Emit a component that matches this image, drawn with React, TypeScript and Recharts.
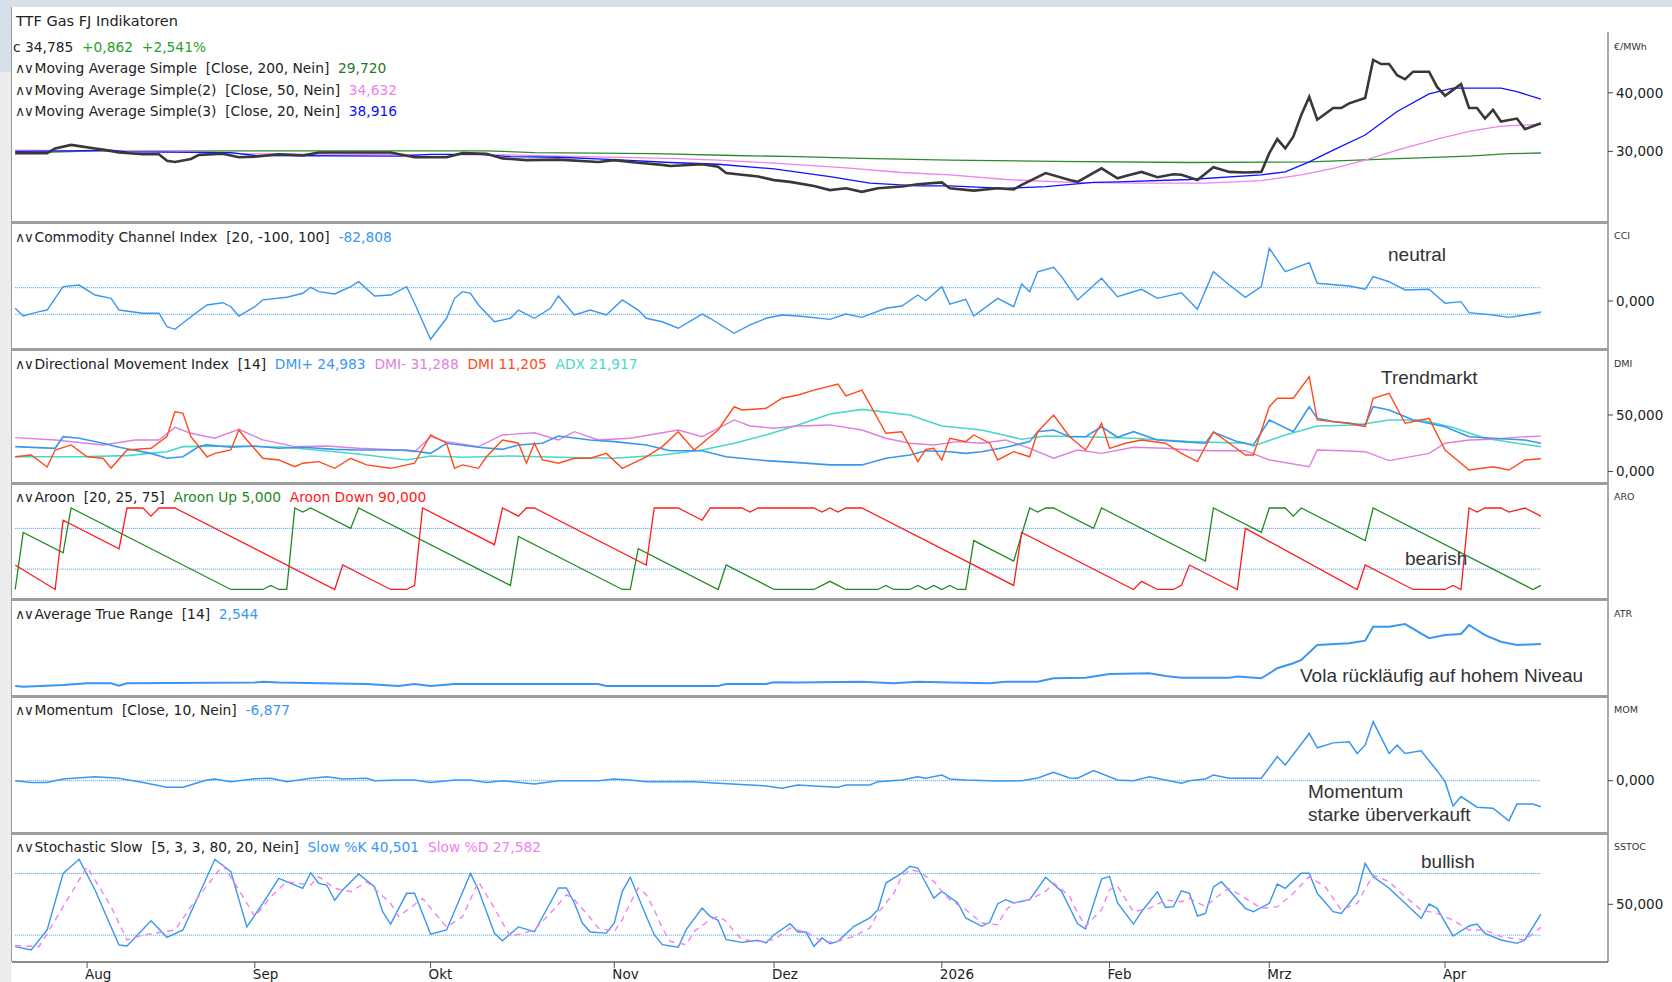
import React from 'react'
import { LineChart, Line, XAxis, YAxis, ReferenceLine } from 'recharts'

// TTF Gas FJ – Kurs + Indikatoren, Tageswerte
// x = Handelstag (0 = 21.07.2025), y = Wert
type Pt = [number, number]

const closePrice: Pt[] = [
  [0, 29.7], [4, 29.7], [5, 30.5], [7, 31.1], [8, 30.9], [10, 30.5], [11, 30.3], [13, 29.8], [16, 29.5], [18, 29.5],
  [19, 28.4], [20, 28.2], [22, 28.7], [23, 29.4], [26, 29.6], [28, 29.0], [30, 29.1], [33, 29.5], [36, 29.3], [38, 29.8],
  [43, 29.8], [47, 29.8], [50, 29.0], [54, 29.0], [56, 29.7], [59, 29.6], [61, 28.8], [64, 28.5], [68, 28.6], [73, 28.2],
  [75, 28.5], [77, 28.2], [81, 27.7], [82, 27.5], [86, 27.8], [88, 27.4], [89, 26.3], [93, 25.7], [95, 25.1], [97, 24.8],
  [100, 24.1], [102, 23.4], [104, 23.7], [106, 23.1], [108, 23.7], [111, 24.0], [113, 24.4], [116, 24.7], [117, 23.7],
  [120, 23.3], [123, 23.7], [125, 23.5], [126, 24.3], [129, 26.3], [132, 25.1], [133, 24.8], [136, 27.1], [138, 25.4],
  [139, 25.8], [141, 26.5], [143, 25.6], [145, 26.1], [146, 26.0], [148, 25.1], [150, 27.3], [152, 26.5], [154, 26.4],
  [156, 26.5], [157, 29.7], [158, 32.1], [159, 30.5], [160, 32.5], [161, 36.2], [162, 39.3], [163, 35.4], [165, 37.4],
  [166, 37.4], [167, 38.2], [169, 39.1], [170, 45.6], [171, 44.9], [172, 44.9], [173, 43.0], [174, 42.3], [175, 43.6],
  [177, 43.6], [178, 41.0], [179, 39.5], [180, 40.5], [181, 41.5], [182, 37.4], [183, 37.4], [184, 35.6], [185, 37.1],
  [186, 35.1], [188, 35.6], [189, 33.8], [191, 34.785],
]

const ma200: Pt[] = [
  [0, 29.7], [8, 30.0], [28, 30.1], [59, 30.1], [65, 29.8], [80, 29.6], [90, 29.3], [98, 29.1], [106, 28.8], [117, 28.5],
  [130, 28.3], [147, 28.1], [162, 28.2], [174, 28.8], [182, 29.2], [187, 29.6], [191, 29.72],
]

const ma50: Pt[] = [
  [0, 30.2], [10, 30.1], [21, 30.0], [28, 29.6], [45, 29.5], [62, 29.4], [68, 29.2], [82, 28.8], [88, 28.5], [95, 28.0],
  [104, 27.2], [111, 26.4], [117, 26.0], [124, 25.2], [132, 24.7], [140, 24.6], [149, 24.6], [156, 25.0], [161, 26.0],
  [165, 27.1], [169, 28.5], [173, 30.2], [178, 32.1], [182, 33.4], [186, 34.3], [191, 34.632],
]

const ma20: Pt[] = [
  [0, 30.0], [7, 30.1], [12, 30.2], [14, 29.9], [27, 29.8], [30, 29.3], [48, 29.2], [52, 29.5], [58, 29.5], [62, 29.1],
  [68, 29.0], [75, 28.6], [82, 28.1], [88, 27.8], [95, 27.0], [102, 25.7], [107, 24.6], [113, 24.1], [117, 24.1],
  [124, 23.7], [129, 24.0], [135, 24.7], [138, 24.8], [147, 25.2], [156, 26.0], [159, 26.5], [162, 28.2], [165, 30.2],
  [169, 32.8], [173, 36.8], [177, 39.8], [180, 40.8], [186, 40.8], [188, 40.2], [191, 38.916],
]

const cci: Pt[] = [
  [0, -55], [1, -113], [3, -80], [4, -68], [6, 108], [8, 120], [10, 45], [12, 20], [13, -68], [16, -92], [18, -92],
  [19, -193], [20, -213], [22, -118], [24, -30], [26, -13], [27, -43], [28, -113], [30, -43], [31, 8], [34, 28], [36, 58],
  [37, 103], [38, 70], [40, 53], [42, 108], [43, 145], [45, 38], [47, 45], [49, 108], [50, -17], [52, -288], [54, -130],
  [55, 20], [56, 70], [57, 58], [58, -30], [60, -156], [62, -130], [63, -68], [65, -130], [67, -55], [68, 38], [70, -105],
  [72, -68], [74, -105], [76, 8], [78, -68], [79, -130], [81, -156], [83, -205], [86, -98], [87, -130], [90, -243],
  [92, -180], [94, -130], [96, -105], [98, -113], [102, -138], [104, -98], [106, -123], [109, -55], [111, -38], [113, 45],
  [114, 2], [116, 108], [117, -23], [119, 13], [120, -113], [123, 20], [125, -43], [126, 128], [127, 70], [128, 220],
  [130, 253], [131, 183], [133, 8], [136, 171], [138, 32], [141, 88], [143, 20], [146, 62], [148, -62], [150, 220],
  [152, 120], [154, 28], [156, 108], [157, 396], [159, 220], [162, 288], [163, 133], [167, 113], [169, 88], [170, 183],
  [172, 145], [174, 83], [177, 88], [179, -17], [181, -5], [182, -88], [185, -105], [187, -123], [189, -105], [191, -82.808],
]

const dmiPlus: Pt[] = [
  [0, 22], [5, 20.5], [6, 30.8], [8, 29.4], [11, 25], [13, 21.4], [17, 16], [19, 11.7], [21, 13], [23, 22], [24, 23.5],
  [27, 21.4], [30, 22.6], [33, 20.5], [36, 21.4], [40, 19.6], [43, 19], [49, 19], [52, 16], [54, 25], [58, 21.4],
  [61, 19.6], [63, 23.5], [66, 25], [68, 31.4], [72, 27.9], [75, 26.4], [79, 23.5], [82, 18.4], [86, 18.4], [89, 13],
  [94, 9.6], [98, 7.8], [102, 5.8], [106, 5.8], [109, 11.7], [112, 14.6], [114, 18.4], [117, 17.5], [119, 16], [121, 17.5],
  [124, 21.4], [127, 26.4], [128, 35.2], [130, 36.7], [132, 30.8], [134, 30.8], [136, 39.6], [138, 30.3], [140, 35.2],
  [143, 27.9], [146, 26.4], [149, 25], [150, 34.7], [153, 26.4], [155, 23.5], [157, 45.6], [160, 35.2], [162, 57.3],
  [163, 47], [165, 44.1], [169, 41.2], [170, 57.3], [172, 54.4], [175, 45.6], [179, 39.6], [182, 30.8], [185, 29.4],
  [189, 27.9], [191, 24.983],
]

const dmiMinus: Pt[] = [
  [0, 30], [5, 27.9], [11, 23.5], [15, 27.9], [18, 27.9], [20, 39], [22, 33.8], [25, 29.4], [28, 37.3], [31, 27.9],
  [35, 22], [39, 22.6], [43, 20.5], [48, 19], [50, 17.5], [52, 30.8], [54, 26.4], [58, 22], [61, 32.3], [65, 34.3],
  [68, 27.9], [70, 35.2], [73, 27.9], [77, 29.4], [83, 36.7], [86, 30.8], [90, 45.6], [92, 40.3], [95, 38.2], [98, 40.3],
  [102, 41.2], [106, 36.7], [109, 29.4], [112, 25], [115, 23.5], [118, 26.4], [121, 25], [124, 27.9], [127, 20.5],
  [130, 11.7], [133, 19], [136, 16], [140, 21.4], [144, 20.5], [147, 19], [150, 18.4], [154, 18.4], [157, 10.2],
  [162, 4.2], [163, 19], [166, 18.4], [169, 17.5], [172, 9.6], [177, 16], [179, 25], [182, 27.9], [185, 28.5], [189, 30.8],
  [191, 31.288],
]

const dmi: Pt[] = [
  [0, 13], [2, 14.6], [4, 4], [5, 19], [7, 23.5], [9, 13], [11, 11.7], [12, 3], [14, 19], [17, 20.5], [19, 30.8], [20, 53],
  [21, 51.5], [22, 30.8], [24, 13], [25, 16], [27, 19], [28, 36.7], [29, 27.9], [31, 11.7], [33, 10.2], [35, 4.2],
  [36, 7.3], [38, 8.7], [40, 2.8], [42, 11.7], [44, 5.8], [47, 2.8], [50, 7.3], [52, 32.3], [54, 25], [55, 2.8], [56, 5.8],
  [58, 2.8], [59, 13], [61, 27.9], [63, 25], [64, 7.3], [65, 25], [66, 10.2], [68, 7.3], [70, 11.7], [72, 11.7], [74, 16],
  [76, 2.8], [79, 13], [81, 22], [83, 35.2], [85, 19], [88, 36.7], [90, 57.3], [91, 54.4], [94, 55.9], [96, 64.8],
  [98, 67.7], [100, 72], [103, 77.4], [104, 66.8], [106, 72], [109, 33.8], [111, 35.2], [113, 8.7], [114, 19.6],
  [115, 20.5], [116, 10.2], [117, 29.4], [119, 26.4], [120, 32.3], [122, 25], [123, 10.2], [125, 17.5], [127, 13],
  [128, 35.2], [130, 50], [132, 30.8], [134, 19], [136, 42.7], [137, 20.5], [139, 25], [141, 27.9], [144, 25], [146, 16],
  [148, 8.7], [150, 35.2], [152, 25], [154, 14.6], [155, 14.6], [157, 57.3], [158, 64.8], [160, 64.8], [162, 83.9],
  [163, 45.6], [165, 44.1], [167, 42.7], [169, 39.6], [170, 64.8], [172, 69.2], [174, 42.7], [177, 47], [179, 19],
  [182, 1.3], [185, 4.2], [187, 1.3], [189, 10.2], [191, 11.205],
]

const adx: Pt[] = [
  [0, 13], [8, 13], [14, 14], [19, 17.5], [21, 22], [27, 22.6], [34, 21.4], [40, 17.5], [44, 14.6], [49, 10.2], [52, 13.7],
  [56, 12.6], [62, 13.7], [68, 12.6], [75, 11.7], [81, 14.6], [86, 19], [90, 25], [94, 32.3], [98, 41.2], [102, 50.9],
  [106, 55], [112, 50], [116, 40.3], [121, 36.7], [126, 28.5], [129, 31.4], [134, 30.8], [140, 29.4], [147, 26.4],
  [154, 25], [155, 22.6], [159, 32.3], [163, 40.3], [168, 41.2], [172, 45.6], [176, 45.6], [180, 39], [184, 29.4],
  [188, 25], [191, 21.917],
]

const aroonUp: Pt[] = [
  [0, 0], [1, 70], [6, 45], [7, 100], [27, 0], [31, 0], [32, 5], [33, 0], [34, 0], [35, 100], [36, 95], [37, 100],
  [42, 75], [43, 100], [62, 5], [63, 65], [76, 0], [77, 0], [78, 50], [88, 0], [89, 30], [95, 0], [100, 0], [101, 5],
  [102, 10], [103, 5], [104, 0], [108, 0], [109, 5], [110, 0], [112, 0], [113, 5], [114, 0], [115, 5], [116, 0], [117, 5],
  [118, 0], [119, 0], [120, 60], [125, 35], [127, 100], [128, 95], [129, 100], [130, 100], [135, 75], [136, 100],
  [149, 35], [150, 100], [156, 70], [157, 100], [159, 100], [160, 90], [161, 100], [169, 60], [170, 100], [189, 5],
  [190, 0], [191, 5],
]

const aroonDown: Pt[] = [
  [0, 30], [5, 0], [6, 85], [13, 50], [14, 100], [16, 100], [17, 90], [18, 100], [20, 100], [40, 0], [41, 30], [47, 0],
  [49, 0], [50, 5], [51, 100], [60, 55], [61, 100], [63, 90], [64, 100], [65, 100], [79, 30], [80, 100], [83, 100],
  [86, 85], [87, 100], [91, 100], [92, 95], [93, 100], [100, 100], [101, 95], [102, 100], [103, 95], [104, 100],
  [106, 100], [125, 5], [126, 70], [140, 0], [141, 10], [143, 0], [145, 0], [146, 5], [147, 30], [153, 0], [154, 75],
  [168, 0], [169, 30], [175, 0], [179, 0], [180, 5], [181, 0], [182, 100], [183, 95], [184, 100], [186, 100], [187, 95],
  [189, 100], [191, 90],
]

const atr: Pt[] = [
  [0, 0.38], [1, 0.34], [6, 0.43], [9, 0.52], [12, 0.52], [13, 0.39], [14, 0.52], [30, 0.55], [31, 0.6], [33, 0.55],
  [44, 0.48], [48, 0.38], [50, 0.48], [52, 0.38], [55, 0.48], [73, 0.48], [74, 0.38], [88, 0.38], [89, 0.48], [94, 0.48],
  [95, 0.57], [98, 0.55], [106, 0.6], [110, 0.52], [113, 0.6], [117, 0.55], [122, 0.52], [124, 0.6], [128, 0.6],
  [130, 0.77], [134, 0.8], [137, 0.99], [142, 1.03], [144, 0.89], [146, 0.8], [152, 0.8], [153, 0.86], [156, 0.77],
  [158, 1.29], [160, 1.55], [161, 1.72], [163, 2.49], [167, 2.58], [169, 2.71], [170, 3.43], [172, 3.43], [174, 3.57],
  [177, 2.84], [179, 3.0], [181, 3.06], [182, 3.52], [184, 3.0], [186, 2.66], [188, 2.49], [191, 2.544],
]

const momentum: Pt[] = [
  [0, 0], [2, -0.5], [4, -0.5], [6, 0.45], [10, 1.06], [13, 0.63], [16, -0.5], [19, -1.75], [21, -1.75], [24, 0.2],
  [25, 0.45], [27, -0.26], [30, 0.53], [32, 0.63], [34, -0.26], [37, 0.63], [39, 1.06], [41, 0.45], [44, 0.63], [45, 0],
  [48, 0.2], [50, 0.2], [52, -0.5], [55, 0.2], [57, 0.2], [59, -0.5], [61, 0], [65, -0.9], [68, 0], [73, 0], [75, 0.45],
  [77, 0.2], [79, -0.26], [85, -0.26], [88, -0.7], [92, -1.14], [94, -1.4], [96, -2.0], [98, -1.14], [100, -1.4],
  [103, -1.75], [104, -1.14], [107, -1.14], [108, -0.26], [111, 0.2], [113, 1.06], [114, 0.63], [116, 1.5], [117, 0.45],
  [119, 0.2], [123, -0.1], [126, 0], [128, 0.7], [130, 2.2], [132, 0.7], [133, 0.63], [135, 2.65], [138, 0.2], [140, 0],
  [142, 1.06], [146, -0.7], [147, 0], [149, 0.45], [150, 1.5], [152, 0.63], [156, 0.63], [158, 6.35], [159, 4.15],
  [162, 12.5], [163, 8.7], [165, 10], [167, 10.3], [168, 7.2], [169, 9.4], [170, 15.6], [172, 7.2], [173, 9.4],
  [174, 7.2], [176, 7.9], [178, 2.65], [179, -0.26], [180, -6.7], [181, -4.2], [183, -7.0], [185, -7.3], [187, -10.6],
  [188, -6.2], [190, -6.2], [191, -6.877],
]

const stochK: Pt[] = [
  [0, 8.8], [2, 5.5], [4, 25], [6, 80], [8, 93.8], [10, 64], [12, 28], [13, 10.4], [14, 9.4], [17, 34], [19, 17.9],
  [21, 25], [25, 93.8], [27, 81.7], [29, 28], [31, 51], [33, 75.3], [36, 65.6], [37, 80.7], [38, 70.4], [39, 68.8],
  [40, 54], [41, 64], [43, 79.5], [45, 67], [46, 42.8], [47, 30.8], [49, 60.7], [50, 60.7], [52, 21], [54, 25], [57, 80],
  [58, 64], [60, 21.8], [61, 14.6], [63, 28], [65, 23.3], [68, 65.9], [69, 65.9], [70, 51.3], [71, 31.8], [72, 23],
  [74, 22], [75, 31.8], [76, 62.6], [77, 76.3], [79, 38.3], [80, 20.4], [81, 10.7], [83, 8.2], [84, 25.3], [86, 46.4],
  [87, 38.3], [88, 34.4], [89, 15.6], [91, 13], [93, 15], [94, 12.4], [95, 20.4], [97, 31.1], [98, 23], [99, 23],
  [100, 9.1], [101, 17.2], [102, 11.7], [103, 14], [105, 28.6], [107, 36.7], [108, 44.7], [109, 70.7], [111, 80.4],
  [112, 87], [113, 85.3], [114, 70.7], [115, 56.1], [116, 62.6], [118, 51.3], [119, 36.7], [121, 28.6], [122, 32.5],
  [123, 50.6], [124, 54.5], [125, 51.3], [127, 54.5], [129, 76.3], [131, 62.6], [133, 31.1], [134, 26], [136, 74.6],
  [137, 77.2], [138, 51.3], [140, 30.8], [141, 42.8], [143, 62.3], [144, 47], [145, 47.7], [146, 63.2], [147, 60.7],
  [148, 38.6], [149, 41.2], [150, 67], [151, 72], [154, 46.1], [155, 42.8], [157, 51], [158, 69.7], [159, 65.6],
  [161, 80.2], [162, 80.2], [163, 60.7], [165, 42.8], [166, 41.2], [168, 60.7], [169, 89.9], [170, 76.9], [172, 65.6],
  [174, 51], [176, 36.4], [177, 50.3], [178, 46.1], [180, 19.2], [182, 28.9], [183, 30.8], [184, 21.8], [186, 15.3],
  [188, 12], [189, 15.3], [191, 40.501],
]

const stochD: Pt[] = [
  [0, 10], [3, 8.8], [6, 47.7], [9, 86.6], [12, 47.7], [14, 15.3], [16, 20.1], [20, 25], [22, 47.7], [26, 88.2], [28, 64],
  [30, 38], [32, 57.4], [34, 72], [37, 68.8], [38, 76.9], [40, 65.6], [42, 62.3], [44, 72], [47, 51], [48, 38],
  [51, 55.8], [54, 28], [56, 38], [58, 72], [60, 46.1], [62, 18.5], [65, 25], [68, 50], [69, 59.4], [70, 54.5],
  [72, 36.7], [73, 26.9], [75, 23.7], [76, 35], [77, 51.3], [78, 65.9], [79, 59.4], [80, 44.7], [81, 26.9], [82, 14],
  [84, 10.7], [85, 23.7], [87, 35], [88, 38.3], [89, 33.5], [90, 23.7], [91, 15.6], [93, 14], [95, 15.6], [97, 26.9],
  [99, 23], [100, 18.9], [101, 13], [103, 14], [105, 18.9], [107, 26.9], [108, 41.5], [110, 61], [111, 77.2],
  [112, 83.7], [113, 82.1], [115, 72.4], [116, 62.6], [117, 54.5], [119, 44.7], [121, 31.8], [123, 30.2], [124, 44.1],
  [125, 51.3], [127, 54.5], [129, 62.6], [130, 70.7], [132, 57.8], [133, 41.5], [134, 28.6], [136, 44.7], [137, 64.2],
  [138, 67.5], [140, 42.8], [142, 46.1], [144, 54.2], [146, 52.5], [147, 55.8], [149, 47.7], [151, 60.7], [152, 65.6],
  [154, 55.8], [156, 46.1], [158, 47.7], [160, 60.7], [162, 76.9], [164, 67.1], [166, 44.5], [168, 51], [170, 78.5],
  [172, 72], [174, 57.4], [176, 44.5], [178, 41.2], [180, 34.7], [182, 25], [184, 25], [186, 18.5], [189, 15.3],
  [191, 27.582],
]

const monthTicks = [9, 30, 52, 75, 95, 116, 137, 157, 179]
const monthLabels = ['Aug', 'Sep', 'Okt', 'Nov', 'Dez', '2026', 'Feb', 'Mrz', 'Apr']

const W = 1672
const LEFT = 12
const AXIS_W = 64
const DAYS: [number, number] = [-0.4, 199.4]
const LAST = 191
const FONT = '"DejaVu Sans", Verdana, sans-serif'
const ANN_FONT = '"Liberation Sans", Arial, sans-serif'
const BLUE = '#3a97f0'
const DOT = '#3d9cf5'
const ICON = '∧∨'

const rows = (pts: Pt[]) => pts.map(([d, v]) => ({ d, v }))
const de = (v: number) => v.toFixed(3).replace('.', ',')
const last = (pts: Pt[]) => de(pts[pts.length - 1][1])

function MonthTick(props: any) {
  const { x, y, payload } = props
  const i = monthTicks.indexOf(payload.value)
  return (
    <text x={x - 2} y={y + 9} textAnchor="start" fontSize={13.5} fontFamily={FONT} fill="#222">
      {monthLabels[i]}
    </text>
  )
}

function dotted(v: number) {
  return (
    <ReferenceLine
      segment={[{ x: 0, y: v }, { x: LAST, y: v }]}
      stroke={DOT}
      strokeDasharray="1 1"
      strokeWidth={1}
    />
  )
}

function Panel(props: {
  top: number
  height: number
  domain: [number, number]
  ticks?: number[]
  bottomAxis?: boolean
  children: React.ReactNode
}) {
  const { top, height, domain, ticks, bottomAxis, children } = props
  const h = height + (bottomAxis ? 20 : 0)
  const hasTicks = !!(ticks && ticks.length)
  return (
    <div style={{ position: 'absolute', left: 0, top, width: W, height: h }}>
      <LineChart width={W} height={h} margin={{ top: 0, right: 0, bottom: 0, left: LEFT }}>
        {bottomAxis ? (
          <XAxis
            dataKey="d"
            type="number"
            domain={DAYS}
            allowDataOverflow
            ticks={monthTicks}
            interval={0}
            height={20}
            axisLine={{ stroke: '#8c8c8c', strokeWidth: 2 }}
            tickLine={{ stroke: '#555' }}
            tickSize={6}
            tick={<MonthTick />}
          />
        ) : (
          <XAxis dataKey="d" type="number" domain={DAYS} allowDataOverflow hide />
        )}
        <YAxis
          orientation="right"
          width={AXIS_W}
          type="number"
          domain={domain}
          allowDataOverflow
          ticks={hasTicks ? ticks : undefined}
          interval={0}
          tick={hasTicks ? { fill: '#222', fontSize: 13.5, fontFamily: FONT } : false}
          tickLine={hasTicks ? { stroke: '#444' } : false}
          tickSize={5}
          tickMargin={3}
          tickFormatter={de}
          axisLine={{ stroke: '#555' }}
        />
        {children}
      </LineChart>
    </div>
  )
}

function series(pts: Pt[], color: string, width = 1.4, dash?: string) {
  return (
    <Line
      data={rows(pts)}
      dataKey="v"
      type="linear"
      stroke={color}
      strokeWidth={width}
      strokeDasharray={dash}
      dot={false}
      activeDot={false}
      isAnimationActive={false}
    />
  )
}

function Legend(props: { cy: number; left?: number; size?: number; icon?: boolean; parts: [string, string][] }) {
  const { cy, left = 15, size = 13.8, icon = true, parts } = props
  return (
    <div
      style={{
        position: 'absolute',
        left,
        top: cy - 9,
        height: 18,
        lineHeight: '18px',
        fontSize: size,
        fontFamily: FONT,
        whiteSpace: 'pre',
        color: '#222',
      }}
    >
      {icon && <span style={{ fontSize: 14, letterSpacing: -1.5, marginRight: 2, color: '#333' }}>{ICON}</span>}
      {parts.map(([t, c], i) => (
        <span key={i} style={{ color: c }}>
          {t}
        </span>
      ))}
    </div>
  )
}

function Note(props: { x: number; cy: number; children: React.ReactNode }) {
  return (
    <div
      style={{
        position: 'absolute',
        left: props.x,
        top: props.cy - 11,
        lineHeight: '22px',
        fontSize: 19,
        fontFamily: ANN_FONT,
        color: '#333',
        whiteSpace: 'pre',
      }}
    >
      {props.children}
    </div>
  )
}

function AxisTag(props: { cy: number; text: string }) {
  return (
    <div
      style={{
        position: 'absolute',
        left: 1614,
        top: props.cy - 6,
        lineHeight: '12px',
        fontSize: 9.5,
        fontFamily: FONT,
        color: '#333',
      }}
    >
      {props.text}
    </div>
  )
}

const seps = [221, 348, 482, 598, 695, 832]

export default function App() {
  const ink = '#222'
  return (
    <div
      style={{
        position: 'absolute',
        left: 0,
        top: 0,
        width: W,
        height: 982,
        background: '#fff',
        overflow: 'hidden',
        fontFamily: FONT,
      }}
    >
      <Panel top={32} height={190} domain={[17.95, 50.37]} ticks={[30, 40]}>
        {series(ma200, '#2c8c2c', 1.3)}
        {series(ma50, '#ee82ee', 1.3)}
        {series(ma20, '#1010ff', 1.3)}
        {series(closePrice, '#383838', 2.6)}
      </Panel>
      <Panel top={222} height={127} domain={[-361, 594]} ticks={[0]}>
        {dotted(100)}
        {dotted(-100)}
        {series(cci, BLUE, 1.4)}
      </Panel>
      <Panel top={349} height={134} domain={[-10.2, 108.4]} ticks={[0, 50]}>
        {series(adx, '#48d8c8', 1.6)}
        {series(dmiMinus, '#e07ee0', 1.4)}
        {series(dmiPlus, BLUE, 1.6)}
        {series(dmi, '#ff4a1a', 1.4)}
      </Panel>
      <Panel top={483} height={116} domain={[-11.7, 130.7]}>
        {dotted(75)}
        {dotted(25)}
        {series(aroonUp, '#1f8a1f', 1.3)}
        {series(aroonDown, '#ff1a1a', 1.3)}
      </Panel>
      <Panel top={599} height={97} domain={[-0.14, 4.86]}>
        {series(atr, BLUE, 2)}
      </Panel>
      <Panel top={696} height={137} domain={[-13.84, 22.4]} ticks={[0]}>
        {dotted(0)}
        {series(momentum, BLUE, 1.5)}
      </Panel>
      <Panel top={833} height={129} domain={[-6.13, 119.4]} ticks={[50]} bottomAxis>
        {dotted(80)}
        {dotted(20)}
        {series(stochK, BLUE, 1.4)}
        {series(stochD, '#ee82ee', 1.4, '6 5')}
      </Panel>

      {/* frame */}
      <div style={{ position: 'absolute', left: 0, top: 0, width: W, height: 7, background: '#d6e0ea' }} />
      <div style={{ position: 'absolute', left: 0, top: 7, width: 11, height: 65, background: '#d6e0ea' }} />
      <div style={{ position: 'absolute', left: 0, top: 72, width: 11, height: 910, background: '#ececec' }} />
      <div style={{ position: 'absolute', left: 11, top: 7, width: 1, height: 955, background: '#9a9a9a' }} />
      {seps.map((y) => (
        <div key={y} style={{ position: 'absolute', left: 11, top: y, width: 1597, height: 3, background: '#9d9d9d' }} />
      ))}

      {/* legends */}
      <Legend cy={21} left={16} size={14.5} icon={false} parts={[['TTF Gas FJ Indikatoren', ink]]} />
      <Legend
        cy={47}
        left={13}
        icon={false}
        parts={[['c ' + last(closePrice) + '  ', ink], ['+0,862  +2,541%', '#2aa22a']]}
      />
      <Legend cy={68} parts={[['Moving Average Simple  [Close, 200, Nein]  ', ink], [last(ma200), '#1f7a1f']]} />
      <Legend cy={89.5} parts={[['Moving Average Simple(2)  [Close, 50, Nein]  ', ink], [last(ma50), '#ee82ee']]} />
      <Legend cy={111} parts={[['Moving Average Simple(3)  [Close, 20, Nein]  ', ink], [last(ma20), '#1010ff']]} />
      <Legend cy={236.5} parts={[['Commodity Channel Index  [20, -100, 100]  ', ink], [last(cci), BLUE]]} />
      <Legend
        cy={364}
        parts={[
          ['Directional Movement Index  [14]  ', ink],
          ['DMI+ ' + last(dmiPlus) + '  ', BLUE],
          ['DMI- ' + last(dmiMinus) + '  ', '#e07ee0'],
          ['DMI ' + last(dmi) + '  ', '#ff4a1a'],
          ['ADX ' + last(adx), '#48d8c8'],
        ]}
      />
      <Legend
        cy={496.7}
        parts={[
          ['Aroon  [20, 25, 75]  ', ink],
          ['Aroon Up ' + last(aroonUp) + '  ', '#1f8a1f'],
          ['Aroon Down ' + last(aroonDown), '#ff1a1a'],
        ]}
      />
      <Legend cy={614} parts={[['Average True Range  [14]  ', ink], [last(atr), BLUE]]} />
      <Legend cy={710} parts={[['Momentum  [Close, 10, Nein]  ', ink], [last(momentum), BLUE]]} />
      <Legend
        cy={847.3}
        parts={[
          ['Stochastic Slow  [5, 3, 3, 80, 20, Nein]  ', ink],
          ['Slow %K ' + last(stochK) + '  ', BLUE],
          ['Slow %D ' + last(stochD), '#ee82ee'],
        ]}
      />

      {/* axis tags */}
      <AxisTag cy={47} text="€/MWh" />
      <AxisTag cy={236} text="CCI" />
      <AxisTag cy={364} text="DMI" />
      <AxisTag cy={497} text="ARO" />
      <AxisTag cy={614} text="ATR" />
      <AxisTag cy={710} text="MOM" />
      <AxisTag cy={847} text="SSTOC" />

      {/* notes */}
      <Note x={1388} cy={255}>neutral</Note>
      <Note x={1381} cy={378}>Trendmarkt</Note>
      <Note x={1405} cy={559}>bearish</Note>
      <Note x={1300} cy={676}>Vola rückläufig auf hohem Niveau</Note>
      <Note x={1308} cy={792}>Momentum</Note>
      <Note x={1308} cy={815}>starke überverkauft</Note>
      <Note x={1421} cy={862}>bullish</Note>
    </div>
  )
}
